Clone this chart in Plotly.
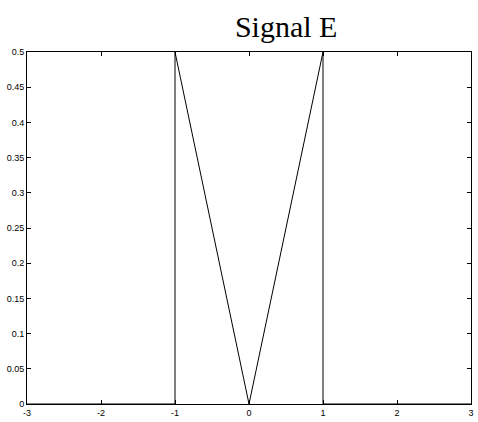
import plotly.graph_objects as go

# Data
signal_x = [-3, -1, -1, 0, 1, 1, 3]
signal_y = [0, 0, 0.5, 0, 0.5, 0, 0]
x_ticks = [-3, -2, -1, 0, 1, 2, 3]
x_tick_labels = ["-3", "-2", "-1", "0", "1", "2", "3"]
y_ticks = [0, 0.05, 0.1, 0.15, 0.2, 0.25, 0.3, 0.35, 0.4, 0.45, 0.5]
y_tick_labels = ["0", "0.05", "0.1", "0.15", "0.2", "0.25", "0.3", "0.35", "0.4", "0.45", "0.5"]
title_text = "Signal E"

fig = go.Figure()
fig.add_trace(go.Scatter(x=signal_x, y=signal_y, mode="lines",
                         line=dict(color="black", width=1), showlegend=False))

axis_common = dict(showline=True, linecolor="black", linewidth=1, mirror="allticks",
                   ticks="inside", ticklen=4, tickcolor="black", tickwidth=1,
                   showgrid=False, zeroline=False, automargin=False,
                   tickfont=dict(family="Liberation Sans, Arial", size=9, color="black"))

fig.update_xaxes(range=[-3, 3], tickvals=x_ticks, ticktext=x_tick_labels,
                 ticklabeloverflow="allow", **axis_common)
fig.update_yaxes(range=[0, 0.5], tickvals=y_ticks, ticktext=y_tick_labels,
                 ticklabeloverflow="allow", **axis_common)

fig.update_layout(
    width=478, height=422,
    margin=dict(l=27, r=7, t=52, b=18),
    plot_bgcolor="white", paper_bgcolor="white",
    title=dict(text=title_text, x=279/478, xanchor="center", xref="paper",
               y=1 - 26/422, yanchor="middle",
               font=dict(family="Liberation Serif, serif", size=30, color="black")),
)

fig.write_html("out.html", config={"displayModeBar": False},
               post_script="document.body.style.margin='0';document.body.style.padding='0';")
